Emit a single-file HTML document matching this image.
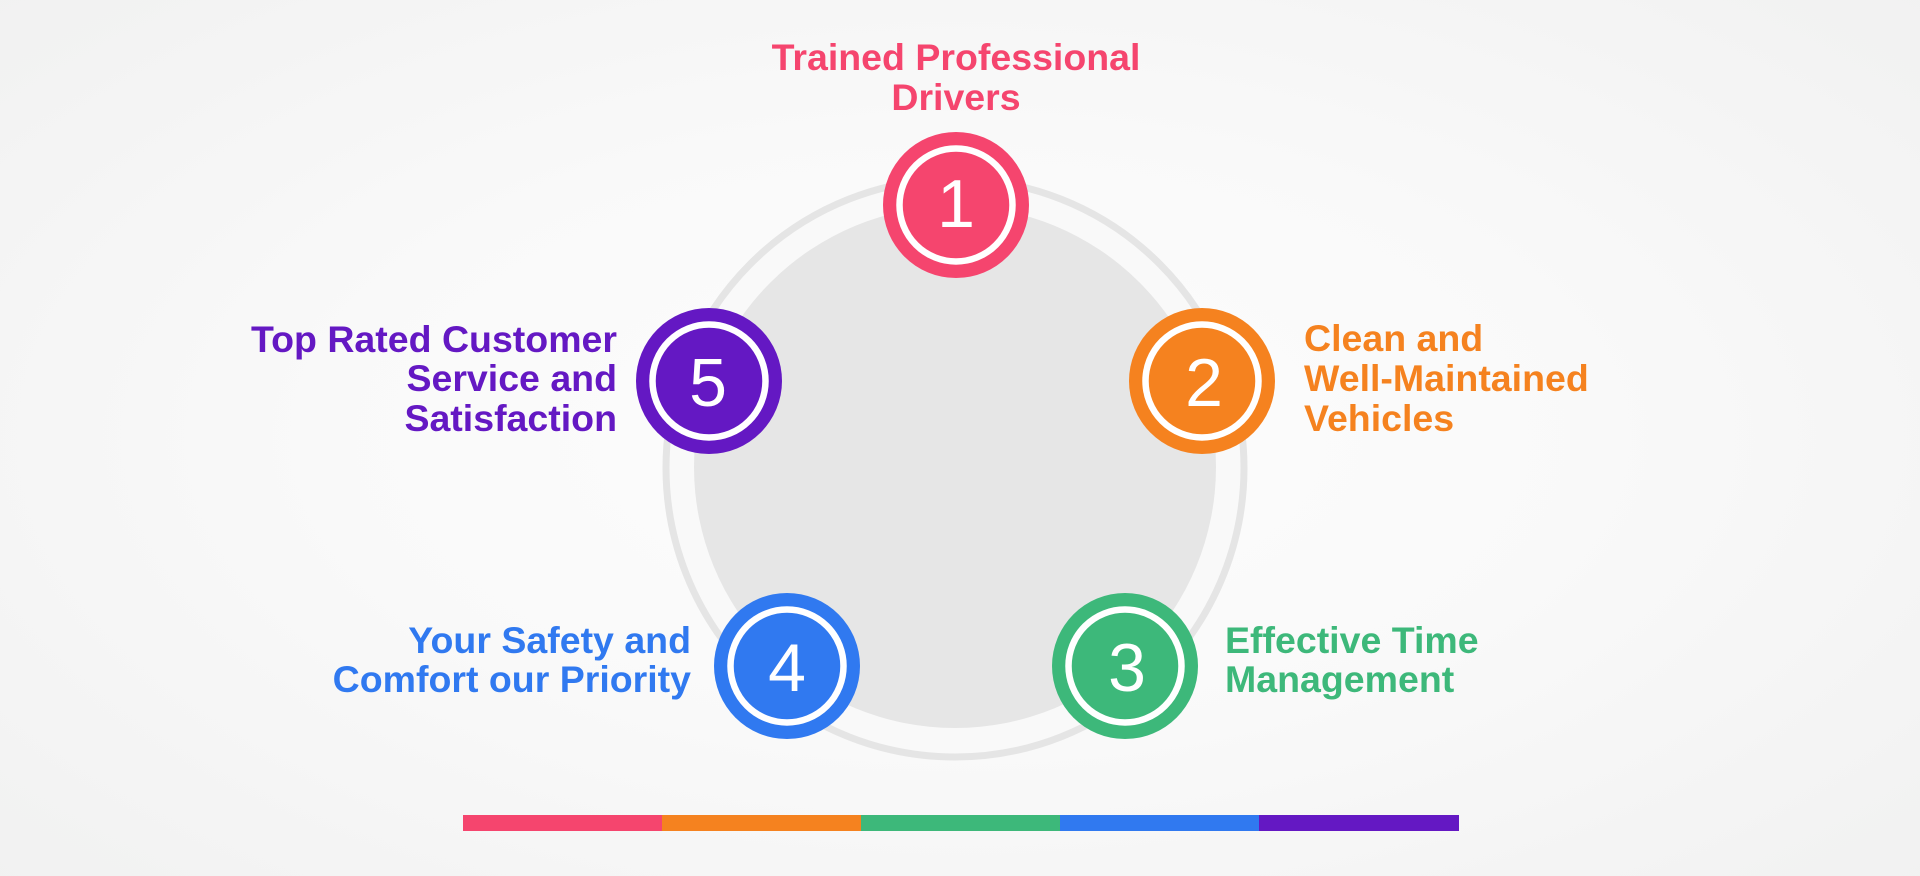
<!DOCTYPE html>
<html>
<head>
<meta charset="utf-8">
<style>
html,body{margin:0;padding:0;}
body{width:1920px;height:876px;overflow:hidden;background:radial-gradient(ellipse 75% 80% at 50% 50%, #fdfdfd 0%, #f9f9f9 45%, #f3f3f3 80%, #f0f1f0 100%);}
svg{display:block;}
text{font-family:"Liberation Sans",Arial,sans-serif;}
.t{font-weight:bold;font-size:37.5px;}
.n{font-size:68px;fill:#fff;text-anchor:middle;}
</style>
</head>
<body>
<svg width="1920" height="876" viewBox="0 0 1920 876" xmlns="http://www.w3.org/2000/svg">
  <!-- outer ring -->
  <circle cx="955" cy="468" r="289" fill="#f9f9f9" stroke="#e5e5e5" stroke-width="7"/>
  <!-- inner disc -->
  <circle cx="955" cy="467" r="261" fill="#e6e6e6"/>

  <!-- circle 1 -->
  <circle cx="956" cy="205" r="73" fill="#f5456e"/>
  <circle cx="956" cy="205" r="56.5" fill="none" stroke="#fff" stroke-width="6.5"/>
  <text class="n" x="956" y="227">1</text>

  <!-- circle 2 -->
  <circle cx="1202" cy="381" r="73" fill="#f5821f"/>
  <circle cx="1202" cy="381" r="56.5" fill="none" stroke="#fff" stroke-width="6.5"/>
  <text class="n" x="1204" y="406">2</text>

  <!-- circle 3 -->
  <circle cx="1125" cy="666" r="73" fill="#3db87a"/>
  <circle cx="1125" cy="666" r="56.5" fill="none" stroke="#fff" stroke-width="6.5"/>
  <text class="n" x="1127" y="691">3</text>

  <!-- circle 4 -->
  <circle cx="787" cy="666" r="73" fill="#3079f0"/>
  <circle cx="787" cy="666" r="56.5" fill="none" stroke="#fff" stroke-width="6.5"/>
  <text class="n" x="787" y="691">4</text>

  <!-- circle 5 -->
  <circle cx="709" cy="381" r="73" fill="#6418c3"/>
  <circle cx="709" cy="381" r="56.5" fill="none" stroke="#fff" stroke-width="6.5"/>
  <text class="n" x="708" y="406">5</text>

  <!-- labels -->
  <text class="t" fill="#f5456e" x="956" y="70" text-anchor="middle">Trained Professional</text>
  <text class="t" fill="#f5456e" x="956" y="110" text-anchor="middle">Drivers</text>

  <text class="t" fill="#f5821f" x="1304" y="351">Clean and</text>
  <text class="t" fill="#f5821f" x="1304" y="391">Well-Maintained</text>
  <text class="t" fill="#f5821f" x="1304" y="431">Vehicles</text>

  <text class="t" fill="#3db87a" x="1225" y="653">Effective Time</text>
  <text class="t" fill="#3db87a" x="1225" y="692">Management</text>

  <text class="t" fill="#3079f0" x="691" y="653" text-anchor="end">Your Safety and</text>
  <text class="t" fill="#3079f0" x="691" y="692" text-anchor="end">Comfort our Priority</text>

  <text class="t" fill="#6418c3" x="617" y="352" text-anchor="end">Top Rated Customer</text>
  <text class="t" fill="#6418c3" x="617" y="391" text-anchor="end">Service and</text>
  <text class="t" fill="#6418c3" x="617" y="431" text-anchor="end">Satisfaction</text>

  <!-- bottom bar -->
  <rect x="463" y="815" width="199.5" height="16" fill="#f5456e"/>
  <rect x="662" y="815" width="199.5" height="16" fill="#f5821f"/>
  <rect x="861" y="815" width="199.5" height="16" fill="#3db87a"/>
  <rect x="1060" y="815" width="199.5" height="16" fill="#3079f0"/>
  <rect x="1259" y="815" width="200" height="16" fill="#6418c3"/>
</svg>
</body>
</html>
